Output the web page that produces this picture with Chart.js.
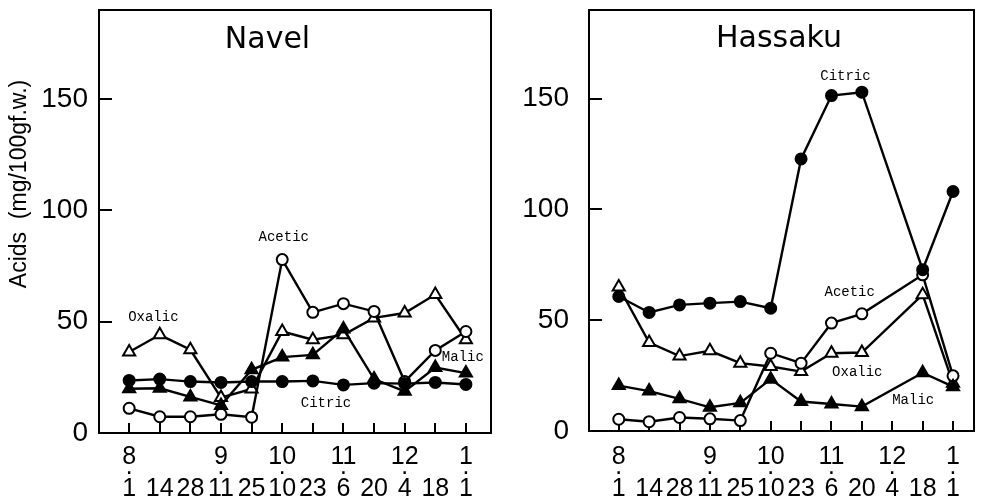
<!DOCTYPE html>
<html><head><meta charset="utf-8">
<script src="https://cdn.jsdelivr.net/npm/chart.js@4.4.1/dist/chart.umd.min.js"></script>
<style>
html,body{margin:0;padding:0;background:#fff;width:983px;height:503px;overflow:hidden}
#c1{position:absolute;left:0;top:0}
#c2{position:absolute;left:500px;top:0}
</style></head><body>
<canvas id="c1" width="500" height="503"></canvas>
<canvas id="c2" width="483" height="503"></canvas>
<script>
// ---- data ----
const monthLabels = ["8","","","9","","10","","11","","12","","1"];
const dayLabels   = ["1","14","28","11","25","10","23","6","20","4","18","1"];
const yTicks = [0, 50, 100, 150];

const navelCitric = [23.6, 24.2, 23.1, 22.7, 23.1, 23.1, 23.4, 21.6, 22.4, 22.2, 22.7, 21.8];
const navelMalic  = [19.9, 20.1, 16.2, 12.4, 28.4, 34.1, 35.1, 46.7, 24.2, 18.7, 29.4, 26.9];
const navelAcetic = [11.1, 7.3, 7.3, 8.4, 7.1, 77.9, 54.2, 58.1, 54.6, 23.1, 37.1, 45.6];
const navelOxalic = [36.4, 44.1, 37.4, 15.9, 19.8, 45.6, 41.9, 44.1, 51.7, 53.9, 62.2, 41.9];

const hassakuCitric = [60.7, 53.5, 56.9, 57.7, 58.4, 55.4, 122.8, 151.4, 152.9, null, 72.8, 108.1];
const hassakuAcetic = [5.3, 4.2, 6.1, 5.5, 4.7, 35.1, 30.6, 48.7, 52.9, null, 70.5, 24.9];
const hassakuOxalic = [65.0, 39.9, 33.8, 36.2, 30.6, 29.1, 26.8, 35.1, 35.4, null, 61.5, 21.5];
const hassakuMalic  = [20.5, 18.0, 14.5, 10.7, 12.7, 23.4, 13.3, 12.2, 11.0, null, 26.3, 20.0];

// series name labels: [text, x index, y value]
const navelNotes   = [["Acetic", 5.05, 87.8], ["Oxalic", 0.79, 51.8], ["Citric", 6.43, 13.5], ["Malic", 10.9, 33.8]];
const hassakuNotes = [["Citric", 7.46, 160], ["Acetic", 7.60, 62.8], ["Oxalic", 7.85, 26.7], ["Malic", 9.69, 14.0]];

// ---- helpers ----
const toXY = arr => arr.map((v, i) => ({x: i, y: v}));
const black = '#000';
const tickFontX = "'Liberation Sans', Arial, sans-serif";
const tickFontY = "'Liberation Sans', Arial, sans-serif";

function ds(values, style, filled) {
  return {
    data: toXY(values),
    borderColor: black, borderWidth: 2.4,
    pointStyle: style,
    pointRadius: style === 'triangle' ? 7 : 5.5,
    pointBorderWidth: 2,
    pointBorderColor: black,
    pointBackgroundColor: filled ? black : '#fff',
    spanGaps: true, tension: 0, fill: false
  };
}

function makeDeco(title, tx, ty, notes, withYTitle) {
  return {
    id: 'deco',
    beforeDatasetsDraw(chart) {
      // inward tick marks
      const ctx = chart.ctx, a = chart.chartArea;
      const xs = chart.scales.x, ys = chart.scales.y;
      ctx.save();
      ctx.strokeStyle = black; ctx.lineWidth = 2;
      ctx.beginPath();
      xs.ticks.forEach(t => { const px = Math.round(xs.getPixelForValue(t.value)); ctx.moveTo(px, a.bottom); ctx.lineTo(px, a.bottom - 10); });
      ys.ticks.forEach(t => { const py = Math.round(ys.getPixelForValue(t.value)); ctx.moveTo(a.left, py); ctx.lineTo(a.left + 13, py); });
      ctx.stroke();
      ctx.restore();
    },
    afterDraw(chart) {
      const ctx = chart.ctx, a = chart.chartArea;
      ctx.save();
      ctx.strokeStyle = black; ctx.lineWidth = 2;
      ctx.strokeRect(a.left, a.top, a.right - a.left, a.bottom - a.top);
      ctx.fillStyle = black;
      ctx.textAlign = 'center'; ctx.textBaseline = 'middle';
      ctx.font = "30px 'DejaVu Sans', sans-serif";
      ctx.fillText(title, tx, ty);
      ctx.font = "14px 'Liberation Mono', monospace";
      const xs = chart.scales.x, ys = chart.scales.y;
      notes.forEach(n => ctx.fillText(n[0], xs.getPixelForValue(n[1]), ys.getPixelForValue(n[2])));
      if (withYTitle) {
        ctx.translate(20, 184);
        ctx.rotate(-Math.PI / 2);
        ctx.font = "23px 'Liberation Sans', Arial, sans-serif";
        ctx.fillText('Acids  (mg/100gf.w.)', 0, 0);
      }
      ctx.restore();
    }
  };
}

function makeChart(id, sets, cfg) {
  return new Chart(document.getElementById(id), {
    type: 'line',
    data: { datasets: sets },
    options: {
      responsive: false, animation: false,
      layout: { padding: { top: cfg.top, right: cfg.padRight, left: 0, bottom: 0 } },
      plugins: { legend: { display: false }, tooltip: { enabled: false } },
      scales: {
        x: {
          type: 'linear', min: cfg.xmin, max: cfg.xmax,
          afterBuildTicks: s => { s.ticks = dayLabels.map((_, i) => ({ value: i })); },
          afterFit: s => { s.height = cfg.xHeight; s.paddingLeft = 0; s.paddingRight = 0; s.paddingTop = 0; s.paddingBottom = 0; },
          grid: { display: false },
          border: { display: true, color: black, width: 2 },
          ticks: {
            autoSkip: false, maxRotation: 0, minRotation: 0, padding: cfg.xPad, color: black,
            font: { family: tickFontX, size: 25, lineHeight: '16px' },
            callback: (v) => {
              const i = Math.round(v);
              return [monthLabels[i], monthLabels[i] ? '\u00b7' : '', dayLabels[i]];
            }
          }
        },
        y: {
          type: 'linear', min: 0, max: 190,
          afterBuildTicks: s => { s.ticks = yTicks.map(v => ({ value: v })); },
          afterFit: s => { s.width = cfg.yWidth; s.paddingLeft = 0; s.paddingRight = 0; s.paddingTop = 0; s.paddingBottom = 0; },
          grid: { display: false },
          border: { display: true, color: black, width: 2 },
          ticks: { padding: cfg.yPad, color: black, font: { family: tickFontY, size: 28 } }
        }
      }
    },
    plugins: [makeDeco(cfg.title, cfg.tx, cfg.ty, cfg.notes, cfg.yTitle)]
  });
}

makeChart('c1', [
  ds(navelCitric, 'circle', true),
  ds(navelMalic, 'triangle', true),
  ds(navelAcetic, 'circle', false),
  ds(navelOxalic, 'triangle', false)
], { top: 10, xmin: -0.985, xmax: 11.82, padRight: 7, xHeight: 70, yWidth: 99, xPad: 8, yPad: 3,
     title: 'Navel', tx: 267.5, ty: 40, notes: navelNotes, yTitle: true });

makeChart('c2', [
  ds(hassakuCitric, 'circle', true),
  ds(hassakuMalic, 'triangle', true),
  ds(hassakuAcetic, 'circle', false),
  ds(hassakuOxalic, 'triangle', false)
], { top: 10, xmin: -0.979, xmax: 11.69, padRight: 5, xHeight: 72, yWidth: 89, xPad: 10, yPad: 12,
     title: 'Hassaku', tx: 279, ty: 39, notes: hassakuNotes, yTitle: false });
</script>
</body></html>
